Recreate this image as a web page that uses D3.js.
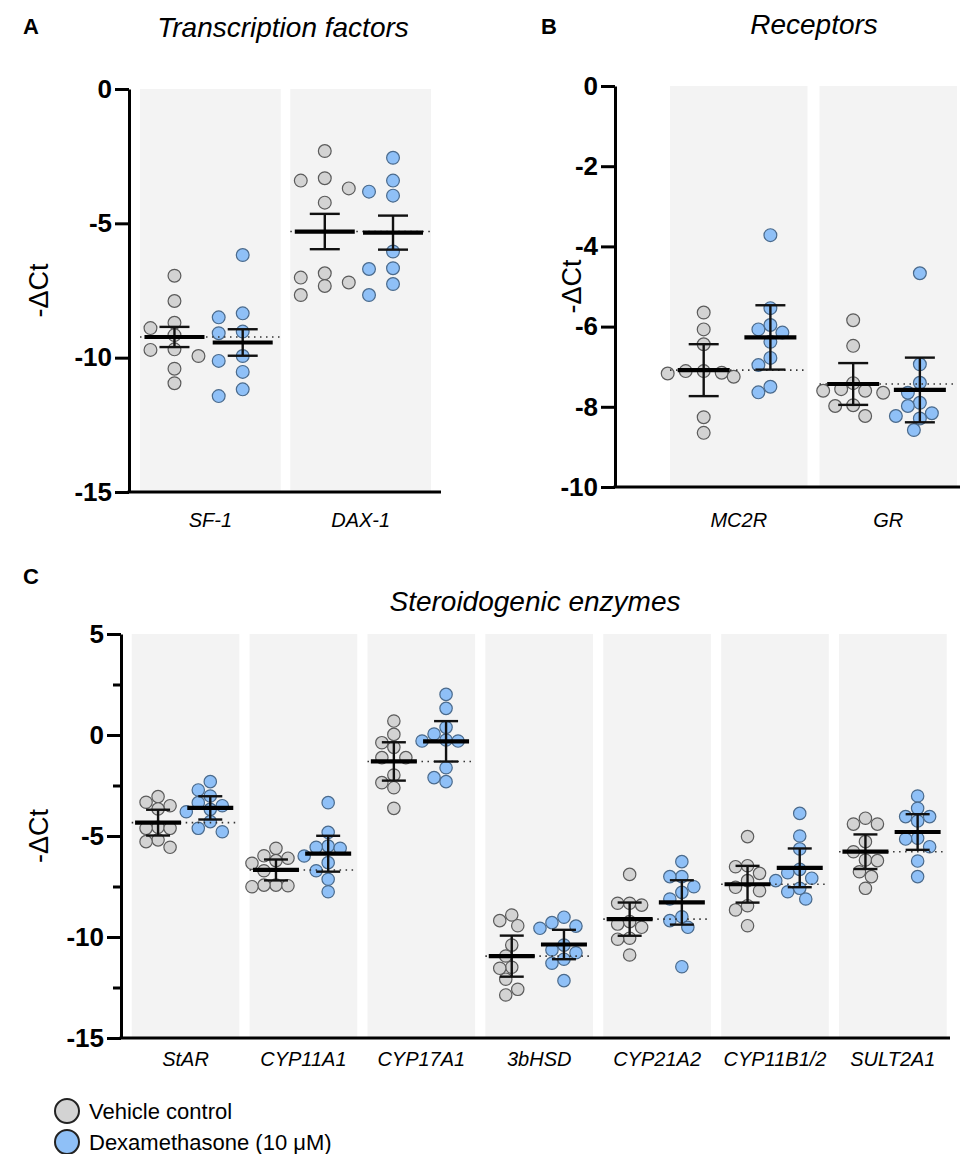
<!DOCTYPE html>
<html><head><meta charset="utf-8">
<script src="https://cdn.jsdelivr.net/npm/d3@7"></script>
<style>body{margin:0;background:#fff}svg{display:block}</style>
</head><body>
<svg id="chart" width="961" height="1154"></svg>
<script>
// ---------------- DATA ----------------
const groups = ["Vehicle control", "Dexamethasone (10 μM)"];

const catsA = ["SF-1", "DAX-1"];
const ctrlA = [
  [-6.95,-7.89,-8.70,-8.90,-9.16,-9.71,-9.69,-9.94,-10.41,-10.95],
  [-2.31,-3.41,-3.32,-3.70,-4.23,-7.02,-7.20,-6.86,-7.33,-7.67]
];
const dexA = [
  [-6.18,-8.50,-8.35,-9.09,-9.03,-9.94,-10.12,-10.53,-11.18,-11.43],
  [-2.56,-3.41,-3.82,-3.97,-6.05,-6.70,-6.67,-7.26,-7.67]
];
const ticksA = [0,-5,-10,-15];

const catsB = ["MC2R", "GR"];
const ctrlB = [
  [-5.65,-6.07,-6.44,-7.11,-7.17,-7.15,-7.25,-7.11,-8.26,-8.65],
  [-5.84,-6.48,-7.41,-7.60,-7.65,-7.56,-7.60,-7.96,-7.98,-8.23]
];
const dexB = [
  [-3.72,-5.54,-5.96,-6.07,-6.15,-6.38,-6.78,-6.96,-7.50,-7.64],
  [-4.67,-6.94,-7.40,-7.65,-7.98,-7.90,-8.23,-8.16,-8.29,-8.58]
];
const ticksB = [0,-2,-4,-6,-8,-10];

const catsC = ["StAR","CYP11A1","CYP17A1","3bHSD","CYP21A2","CYP11B1/2","SULT2A1"];
const ctrlC = [
  [-3.05,-3.33,-3.66,-3.50,-4.62,-4.62,-4.57,-5.28,-5.19,-5.56],
  [-5.61,-6.22,-6.10,-5.98,-6.35,-6.72,-7.51,-7.43,-7.46,-7.43],
  [0.69,0.03,-0.61,-0.38,-1.12,-1.12,-1.98,-2.36,-2.61,-3.63],
  [-8.91,-9.19,-9.44,-10.40,-10.94,-11.50,-11.55,-12.09,-12.59,-12.87],
  [-6.90,-8.33,-8.42,-8.33,-9.24,-9.52,-9.36,-10.11,-10.06,-10.89],
  [-5.03,-6.52,-6.47,-6.85,-7.21,-7.54,-7.71,-8.45,-8.66,-9.44],
  [-4.12,-4.41,-4.41,-5.28,-5.78,-6.19,-6.22,-6.77,-7.01,-7.59]
];
const dexC = [
  [-2.31,-2.72,-3.02,-3.35,-3.80,-3.68,-3.50,-4.29,-4.62,-4.79],
  [-3.35,-4.82,-5.50,-5.56,-5.61,-5.99,-6.32,-6.72,-7.14,-7.76],
  [2.01,1.32,0.38,0.05,-0.30,-0.30,-0.25,-1.62,-2.31,-2.11],
  [-9.02,-9.29,-9.46,-9.57,-10.40,-10.64,-10.78,-11.10,-11.30,-12.16],
  [-6.27,-7.01,-7.01,-7.51,-7.79,-8.12,-9.00,-9.19,-9.52,-11.47],
  [-3.88,-5.00,-5.64,-6.65,-6.82,-7.21,-7.09,-7.76,-7.59,-8.12],
  [-3.02,-3.63,-4.04,-4.26,-4.04,-5.15,-5.11,-5.53,-6.24,-7.01]
];
const ticksC = [5,0,-5,-10,-15];
const minorTicksC = [2.5,-2.5,-7.5,-12.5];

// ---------------- STYLE ----------------
const FONT = "Arial, 'Liberation Sans', sans-serif";
const fills = ["#d3d3d3", "#8fc0f7"];
const strokes = ["#5b5b5b", "#4a6a8c"];
const tTable = {7:2.365, 8:2.306, 9:2.262, 10:2.228};

const svg = d3.select("#chart");

function stats(v, errType) {
  const n = v.length, m = d3.mean(v), sd = d3.deviation(v), sem = sd / Math.sqrt(n);
  const e = errType === "sem" ? sem : sem * tTable[n - 1];
  return {m, lo: m - e, hi: m + e};
}

function swarm(vals, y, cx, o) {
  const idx = vals.map((v, i) => i).sort((a, b) => vals[b] - vals[a]);
  const placed = [], out = [];
  idx.forEach(i => {
    const py = y(vals[i]);
    for (let k = 0; k < 60; k++) {
      const off = k === 0 ? 0 : (k % 2 === 1 ? -1 : 1) * Math.ceil(k / 2) * o.step;
      const ok = placed.every(p => {
        const dx = (off - p.off) / o.rx, dy = (py - p.y) / o.ry;
        return dx * dx + dy * dy >= 1;
      });
      if (ok) { placed.push({off, y: py}); out.push({x: cx + off, y: py, v: vals[i]}); break; }
    }
  });
  return out;
}

function panel(cfg) {
  const g = svg.append("g");
  const y = d3.scaleLinear().domain(cfg.domain).range([cfg.yBottom, cfg.yTop]);
  const x = d3.scaleBand().domain(cfg.cats).range(cfg.bandRange).paddingInner(cfg.padInner);
  const inner = d3.scalePoint().domain(groups).range([x.bandwidth() * 0.245, x.bandwidth() * 0.73]);

  g.selectAll("rect.band").data(cfg.cats).join("rect")
    .attr("x", d => x(d)).attr("width", x.bandwidth())
    .attr("y", y(cfg.domain[1])).attr("height", y(cfg.domain[0]) - y(cfg.domain[1]))
    .attr("fill", "#f3f3f3");

  cfg.cats.forEach((c, ci) => {
    const sets = [cfg.ctrl[ci], cfg.dex[ci]];
    const st = sets.map(v => stats(v, cfg.err));
    sets.forEach((vals, gi) => {
      const cx = x(c) + inner(groups[gi]);
      const pts = swarm(vals, y, cx, cfg.swarm);
      g.selectAll(null).data(pts).join("circle")
        .attr("cx", d => d.x).attr("cy", d => d.y).attr("r", cfg.r)
        .attr("fill", fills[gi]).attr("stroke", strokes[gi]).attr("stroke-width", 1.2);
    });
    g.append("line")
      .attr("x1", x(c)).attr("x2", x(c) + x.bandwidth())
      .attr("y1", y(st[0].m)).attr("y2", y(st[0].m))
      .attr("stroke", "#333").attr("stroke-width", 1.6).attr("stroke-dasharray", "1.5,4.5");
    st.forEach((s, gi) => {
      const cx = x(c) + inner(groups[gi]);
      const eb = g.append("g").attr("stroke", "#111").attr("fill", "none");
      eb.append("line").attr("x1", cx).attr("x2", cx).attr("y1", y(s.hi)).attr("y2", y(s.lo)).attr("stroke-width", 2.4);
      [s.hi, s.lo].forEach(v => eb.append("line")
        .attr("x1", cx - cfg.capW / 2).attr("x2", cx + cfg.capW / 2)
        .attr("y1", y(v)).attr("y2", y(v)).attr("stroke-width", 2.4));
      eb.append("line").attr("x1", cx - cfg.meanW / 2).attr("x2", cx + cfg.meanW / 2)
        .attr("y1", y(s.m)).attr("y2", y(s.m)).attr("stroke-width", 4.2).attr("stroke", "#000");
    });
  });

  const ax = g.append("g").attr("transform", `translate(${cfg.axisX},0)`)
    .call(d3.axisLeft(y).tickValues(cfg.ticks).tickSize(14).tickSizeOuter(0).tickPadding(3).tickFormat(d => String(d)));
  ax.select(".domain").attr("stroke-width", 3).attr("stroke", "#000");
  ax.selectAll(".tick line").attr("stroke-width", 3).attr("stroke", "#000");
  ax.selectAll(".tick text").attr("font-family", FONT).attr("font-size", 26).attr("font-weight", "bold").attr("fill", "#000");
  if (cfg.minor) {
    const mx = g.append("g").attr("transform", `translate(${cfg.axisX},0)`)
      .call(d3.axisLeft(y).tickValues(cfg.minor).tickSize(8).tickFormat(""));
    mx.select(".domain").remove();
    mx.selectAll(".tick line").attr("stroke-width", 3).attr("stroke", "#000");
  }
  g.append("line").attr("x1", cfg.axisX - 1.5).attr("x2", cfg.xEnd)
    .attr("y1", cfg.yBottom).attr("y2", cfg.yBottom).attr("stroke", "#000").attr("stroke-width", 3);
  g.selectAll("text.cat").data(cfg.cats).join("text")
    .attr("x", d => x(d) + x.bandwidth() / 2).attr("y", cfg.catY)
    .attr("text-anchor", "middle").attr("font-family", FONT).attr("font-style", "italic")
    .attr("font-size", 20).text(d => d);
  g.append("text").attr("transform", `translate(${cfg.yTitleX},${(cfg.yTop + cfg.yBottom) / 2}) rotate(-90)`)
    .attr("text-anchor", "middle").attr("font-family", FONT).attr("font-size", 27).text("-ΔCt");
  g.append("text").attr("x", cfg.titleX).attr("y", cfg.titleY).attr("text-anchor", "middle")
    .attr("font-family", FONT).attr("font-style", "italic").attr("font-size", 28).text(cfg.title);
  g.append("text").attr("x", cfg.letterX).attr("y", cfg.letterY)
    .attr("font-family", FONT).attr("font-weight", "bold").attr("font-size", 22).text(cfg.letter);
}

panel({cats: catsA, ctrl: ctrlA, dex: dexA, ticks: ticksA, domain: [-15, 0], err: "sem",
  yTop: 89, yBottom: 492, axisX: 129, xEnd: 441, bandRange: [140, 431], padInner: 0.064,
  r: 6.4, meanW: 60, capW: 30, swarm: {step: 24, rx: 24, ry: 12},
  catY: 527, yTitleX: 48, title: "Transcription factors", titleX: 283, titleY: 37,
  letter: "A", letterX: 23, letterY: 34});

panel({cats: catsB, ctrl: ctrlB, dex: dexB, ticks: ticksB, domain: [-10, 0], err: "ci",
  yTop: 86, yBottom: 487, axisX: 615, xEnd: 960, bandRange: [670, 957], padInner: 0.08,
  r: 6.4, meanW: 52, capW: 30, swarm: {step: 6, rx: 12.4, ry: 12.4},
  catY: 527, yTitleX: 581, title: "Receptors", titleX: 814, titleY: 34,
  letter: "B", letterX: 541, letterY: 34});

panel({cats: catsC, ctrl: ctrlC, dex: dexC, ticks: ticksC, minor: minorTicksC, domain: [-15, 5], err: "ci",
  yTop: 634, yBottom: 1038, axisX: 121, xEnd: 950, bandRange: [131.7, 946.7], padInner: 0.087,
  r: 6.2, meanW: 46, capW: 24, swarm: {step: 6, rx: 12, ry: 12},
  catY: 1066, yTitleX: 48, title: "Steroidogenic enzymes", titleX: 535, titleY: 611,
  letter: "C", letterX: 23, letterY: 584});

const leg = svg.append("g");
groups.forEach((gname, i) => {
  const cy = 1111 + i * 31;
  leg.append("circle").attr("cx", 67).attr("cy", cy).attr("r", 12)
    .attr("fill", fills[i]).attr("stroke", "#222").attr("stroke-width", 2);
  leg.append("text").attr("x", 89).attr("y", cy + 8).attr("font-family", FONT).attr("font-size", 22).text(gname);
});
</script>
</body></html>
